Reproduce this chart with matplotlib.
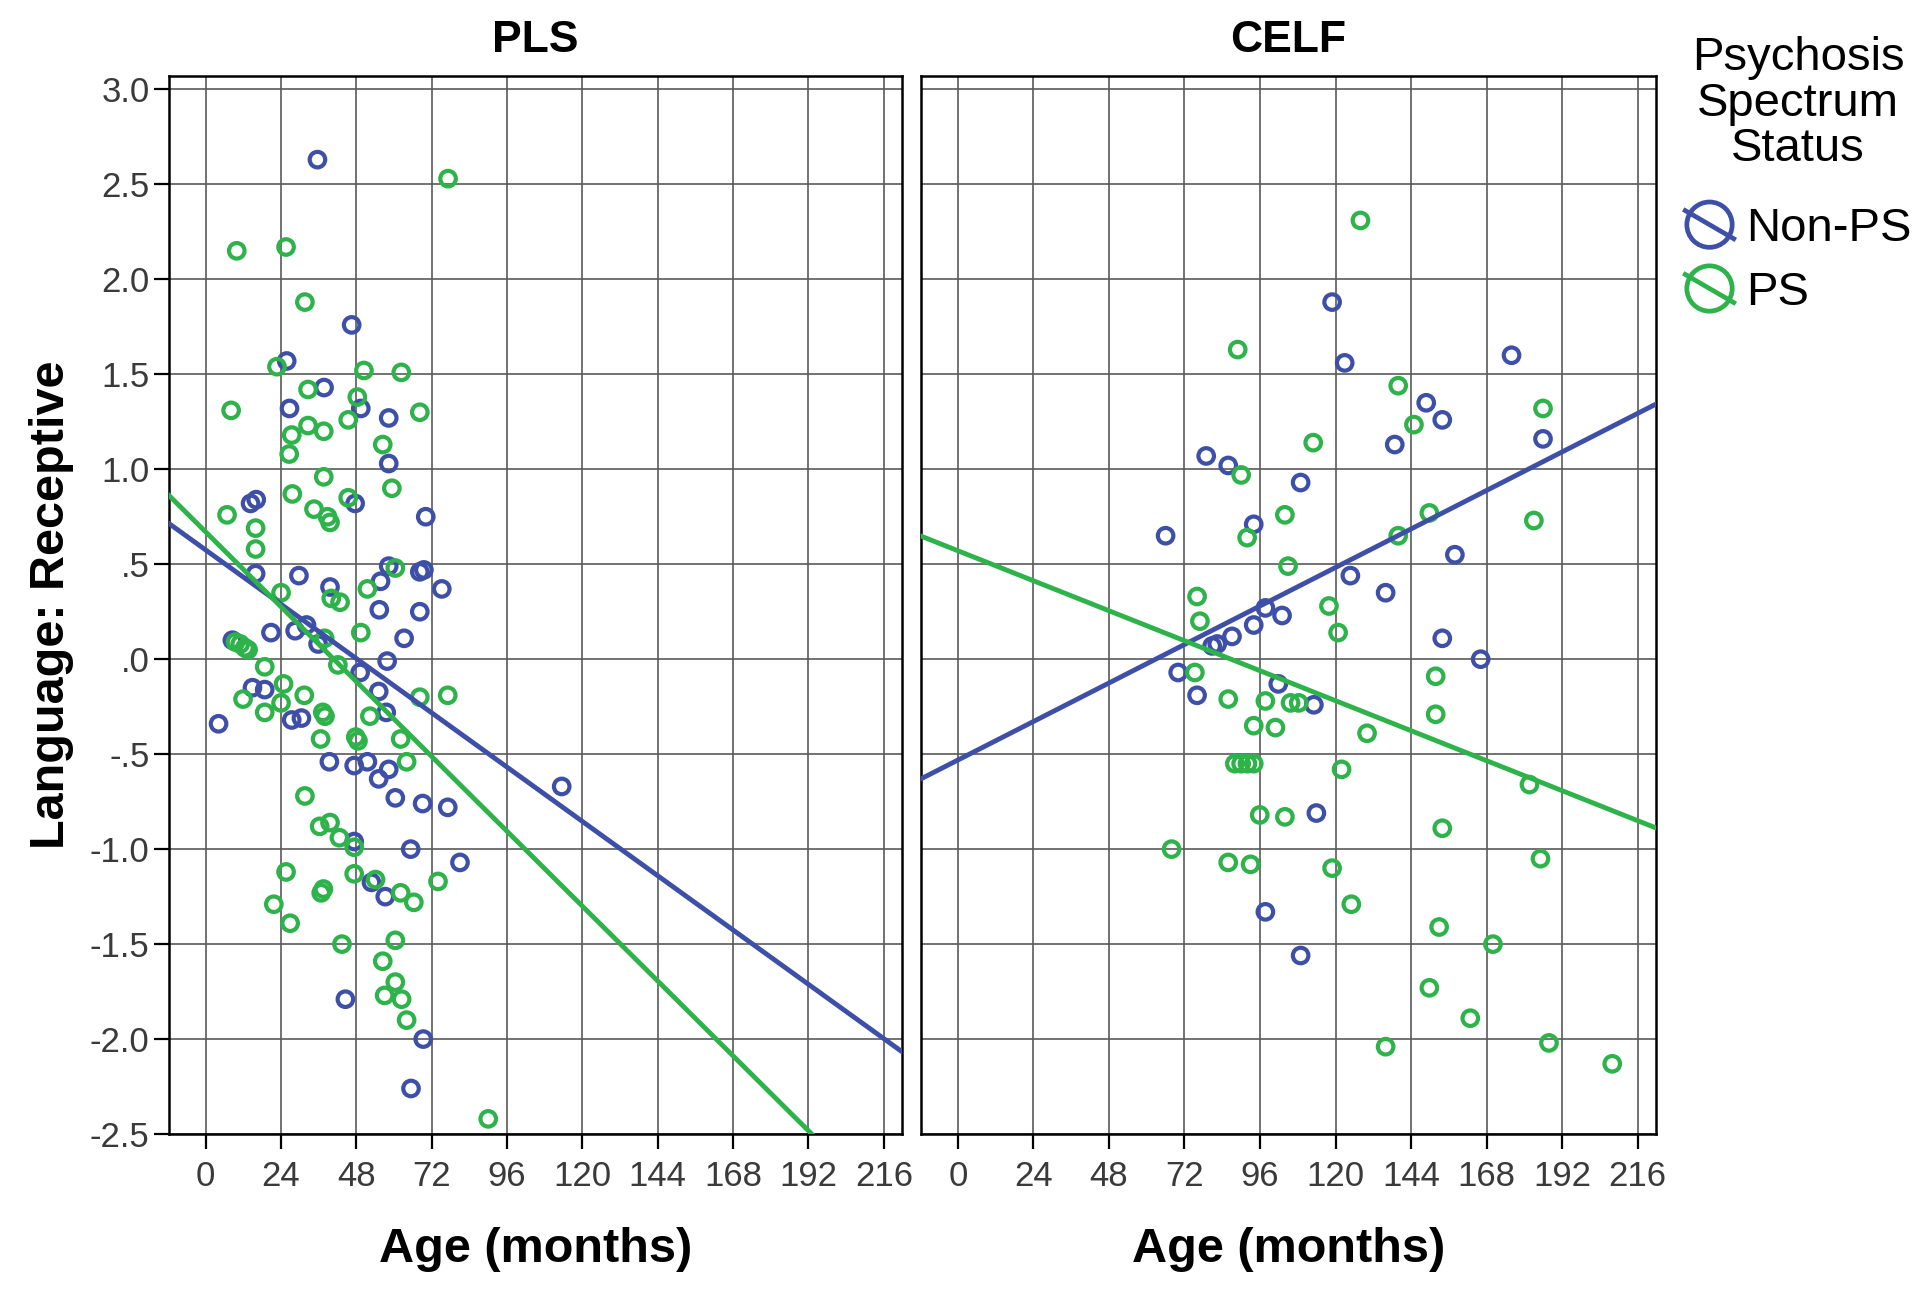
import matplotlib
matplotlib.use("Agg")
import matplotlib.pyplot as plt
from matplotlib.legend_handler import HandlerBase
from matplotlib.lines import Line2D
from matplotlib.patches import Ellipse

plt.rcParams['font.family'] = ['Liberation Sans', 'DejaVu Sans']

BLUE = '#3E4FA8'
GREEN = '#2DB34A'

# ---- data (age in months, receptive language z) ----
pls_nonps_age = [35.6, 46.5, 25.8, 37.7, 49.4, 26.7, 58.3, 58.3, 14.3, 16.1, 47.6, 70.1,
                 15.9, 29.7, 39.6, 55.7, 58.3, 68.2, 69.5, 75.2, 55.3, 68.2, 63.2, 20.8,
                 28.5, 32.1, 35.8, 57.8, 8.5, 49.2, 14.9, 18.8, 27.4, 30.5, 4.1, 55.1,
                 57.5, 39.4, 47.3, 51.5, 55.1, 58.3, 60.4, 69.1, 77.1, 113.4, 47.3, 65.3,
                 81.0, 52.8, 57.2, 44.5, 69.3, 65.4]
pls_nonps_score = [2.63, 1.76, 1.57, 1.43, 1.32, 1.32, 1.27, 1.03, 0.82, 0.84, 0.82, 0.75,
                   0.45, 0.44, 0.38, 0.41, 0.49, 0.46, 0.47, 0.37, 0.26, 0.25, 0.11, 0.14,
                   0.15, 0.18, 0.08, -0.01, 0.10, -0.07, -0.15, -0.16, -0.32, -0.31, -0.34, -0.17,
                   -0.28, -0.54, -0.56, -0.54, -0.63, -0.58, -0.73, -0.76, -0.78, -0.67, -0.96, -1.00,
                   -1.07, -1.175, -1.25, -1.79, -2.00, -2.26]

pls_ps_age = [77.2, 9.9, 25.6, 31.6, 22.7, 50.4, 62.3, 32.6, 48.3, 8.1, 68.2, 45.4,
              32.6, 37.6, 27.4, 56.4, 26.6, 37.6, 59.3, 27.6, 6.8, 34.5, 45.4, 38.8,
              39.6, 15.9, 15.9, 24.0, 40.0, 42.8, 51.5, 60.4, 49.4, 37.9, 9.5, 11.0,
              12.5, 13.5, 18.8, 42.1, 11.9, 18.8, 24.8, 31.4, 24.0, 37.3, 38.0, 36.6,
              47.8, 48.5, 52.3, 68.2, 77.1, 62.1, 64.0, 31.6, 36.3, 39.6, 42.6, 47.3,
              25.6, 47.3, 54.1, 36.8, 37.5, 74.0, 62.1, 66.3, 21.7, 26.9, 43.4, 60.4,
              56.4, 60.4, 57.0, 62.4, 64.0, 90.0]
pls_ps_score = [2.53, 2.15, 2.17, 1.88, 1.54, 1.52, 1.51, 1.42, 1.38, 1.31, 1.30, 1.26,
                1.23, 1.20, 1.18, 1.13, 1.08, 0.96, 0.90, 0.87, 0.76, 0.79, 0.85, 0.75,
                0.72, 0.69, 0.58, 0.35, 0.32, 0.30, 0.37, 0.48, 0.14, 0.11, 0.09, 0.08,
                0.06, 0.05, -0.04, -0.03, -0.21, -0.28, -0.13, -0.19, -0.23, -0.28, -0.30, -0.42,
                -0.41, -0.43, -0.30, -0.20, -0.19, -0.42, -0.54, -0.72, -0.88, -0.86, -0.94, -0.99,
                -1.12, -1.13, -1.16, -1.23, -1.21, -1.17, -1.23, -1.28, -1.29, -1.39, -1.50, -1.48,
                -1.59, -1.70, -1.77, -1.79, -1.90, -2.42]

celf_nonps_age = [118.9, 122.9, 175.9, 148.8, 153.9, 138.8, 185.9, 78.9, 85.9, 108.9,
                  66.0, 94.0, 157.9, 124.7, 135.9, 97.7, 103.0, 94.0, 87.1, 82.4,
                  80.8, 153.9, 166.1, 70.0, 76.0, 101.8, 113.1, 113.9, 97.7, 108.9]
celf_nonps_score = [1.88, 1.56, 1.60, 1.35, 1.26, 1.13, 1.16, 1.07, 1.02, 0.93,
                    0.65, 0.71, 0.55, 0.44, 0.35, 0.27, 0.23, 0.18, 0.12, 0.08,
                    0.07, 0.11, 0.00, -0.07, -0.19, -0.13, -0.24, -0.81, -1.33, -1.56]

celf_ps_age = [127.9, 88.9, 139.9, 144.9, 185.9, 112.9, 90.0, 91.9, 103.9, 104.9,
               149.8, 139.9, 183.0, 117.9, 120.8, 76.0, 76.9, 75.3, 85.9, 97.7,
               105.7, 108.3, 151.8, 151.8, 94.0, 100.9, 130.0, 88.0, 90.0, 92.0,
               94.0, 121.9, 181.6, 95.9, 103.9, 153.9, 67.9, 85.9, 93.0, 118.9,
               185.1, 125.0, 152.9, 170.0, 149.8, 162.8, 135.9, 187.8, 207.9]
celf_ps_score = [2.31, 1.63, 1.44, 1.235, 1.32, 1.14, 0.97, 0.64, 0.76, 0.49,
                 0.77, 0.65, 0.73, 0.28, 0.14, 0.33, 0.20, -0.07, -0.21, -0.22,
                 -0.23, -0.23, -0.09, -0.29, -0.35, -0.36, -0.39, -0.55, -0.55, -0.55,
                 -0.55, -0.58, -0.66, -0.82, -0.83, -0.89, -1.00, -1.07, -1.08, -1.10,
                 -1.05, -1.29, -1.41, -1.50, -1.73, -1.89, -2.04, -2.02, -2.13]

# linear fit lines (intercept at age 0, slope per month) as drawn in the reference
pls_fit = {'Non-PS': (0.575, -0.01191), 'PS': (0.670, -0.01642)}
celf_fit = {'Non-PS': (-0.531, 0.00845), 'PS': (0.571, -0.00658)}

x_ticks = [0, 24, 48, 72, 96, 120, 144, 168, 192, 216]
y_ticks = [3.0, 2.5, 2.0, 1.5, 1.0, 0.5, 0.0, -0.5, -1.0, -1.5, -2.0, -2.5]
y_tick_labels = ['3.0', '2.5', '2.0', '1.5', '1.0', '.5', '.0', '-.5',
                 '-1.0', '-1.5', '-2.0', '-2.5']

groups = ['Non-PS', 'PS']
colors = {'Non-PS': BLUE, 'PS': GREEN}


class CircleSlash(HandlerBase):
    """Legend key: open circle crossed by a fit line, as SPSS draws it."""
    def create_artists(self, legend, orig_handle, xdescent, ydescent,
                       width, height, fontsize, trans):
        cx = width / 2 - xdescent
        cy = height / 2 - ydescent
        r = 0.5 * height
        col = orig_handle.get_color()
        circ = Ellipse((cx, cy), 2 * r, 2 * r, facecolor='none',
                       edgecolor=col, linewidth=3.4, transform=trans)
        line = Line2D([cx - 1.07 * r, cx + 1.07 * r], [cy + 0.62 * r, cy - 0.62 * r],
                      color=col, linewidth=3.4, transform=trans)
        return [circ, line]


fig = plt.figure(figsize=(19.2, 12.89), dpi=100)
ax1 = fig.add_axes([0.0880, 0.1202, 0.3818, 0.8208])
ax2 = fig.add_axes([0.4797, 0.1202, 0.3828, 0.8208])

panels = [
    (ax1, 'PLS', {'Non-PS': (pls_nonps_age, pls_nonps_score), 'PS': (pls_ps_age, pls_ps_score)}, pls_fit),
    (ax2, 'CELF', {'Non-PS': (celf_nonps_age, celf_nonps_score), 'PS': (celf_ps_age, celf_ps_score)}, celf_fit),
]

for ax, title, pts, fits in panels:
    for g in groups:
        xs, ys = pts[g]
        ax.scatter(xs, ys, s=125, facecolors='none', edgecolors=colors[g],
                   linewidths=3.0, zorder=3)
    for g in groups:
        b, m = fits[g]
        ax.axline((0, b), slope=m, color=colors[g], linewidth=3.5, zorder=4)

    ax.set_xlim(-11.7, 221.8)
    ax.set_ylim(-2.5, 3.07)
    ax.set_xticks(x_ticks)
    ax.set_xticklabels([str(t) for t in x_ticks])
    ax.set_yticks(y_ticks)
    ax.set_yticklabels(y_tick_labels)
    ax.grid(True, color='#5a5a5a', linewidth=1.2)
    ax.set_axisbelow(True)
    for sp in ax.spines.values():
        sp.set_linewidth(1.8)
        sp.set_color('black')
    ax.tick_params(axis='both', length=11, width=1.6, labelsize=25,
                   labelcolor='#3a3a3a', pad=8)
    ax.tick_params(axis='y', pad=3)
    ax.set_title(title, fontsize=32, fontweight='bold', pad=17)
    ax.set_xlabel('Age (months)', fontsize=35, fontweight='bold', labelpad=24)

ax1.set_ylabel('Language: Receptive', fontsize=35, fontweight='bold', labelpad=11)
ax2.tick_params(axis='y', left=False, labelleft=False)

fig.text(1798 / 1920, 1 - 36 / 1289, 'Psychosis\nSpectrum\nStatus', ha='center',
         va='top', fontsize=34, linespacing=1.05)

handles = [Line2D([], [], color=colors[g]) for g in groups]
leg = fig.legend(handles, groups, loc='upper left',
                 bbox_to_anchor=(1680 / 1920, 1 - 202 / 1289),
                 frameon=False, fontsize=34,
                 handler_map={Line2D: CircleSlash()},
                 handlelength=1.25, handleheight=1.1, handletextpad=0.15,
                 labelspacing=0.32, borderpad=0, borderaxespad=0)

fig.savefig('out.png', dpi=100)
